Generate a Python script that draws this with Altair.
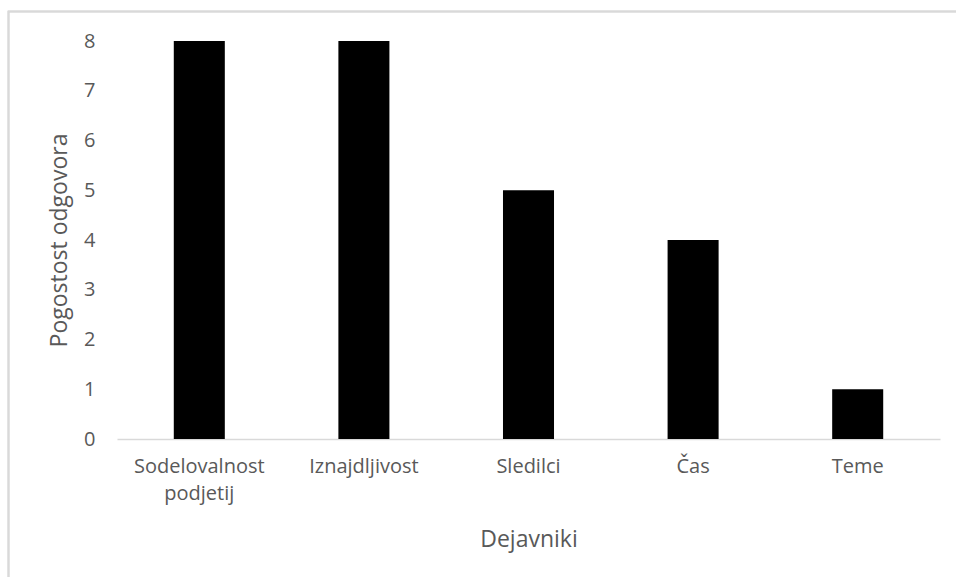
import altair as alt
import pandas as pd

# Factors and how often each was mentioned
factors = ["Sodelovalnost podjetij", "Iznajdljivost", "Sledilci", "Čas", "Teme"]
counts = [8, 8, 5, 4, 1]
y_ticks = [0, 1, 2, 3, 4, 5, 6, 7, 8]

df = pd.DataFrame({"dejavnik": factors, "pogostost": counts})

FONT = "Open Sans"
TEXT = "#595959"
LINE = "#d9d9d9"
FS = 20
TFS = 23

W, H = 823, 398

bars = alt.Chart(df).mark_bar(color="black").encode(
    x=alt.X(
        "dejavnik:N",
        sort=factors,
        scale=alt.Scale(paddingInner=0.69, paddingOuter=0.345),
        axis=alt.Axis(
            title="Dejavniki",
            domainColor=LINE,
            domainWidth=1.5,
            ticks=False,
            labelAngle=0,
            labelPadding=17,
            labelFontSize=FS,
            labelColor=TEXT,
            labelFont=FONT,
            labelLineHeight=27,
            labelBaseline="top",
            labelExpr="length(datum.label) > 15 ? split(datum.label, ' ') : datum.label",
            titleFontSize=TFS,
            titleFontWeight="normal",
            titleColor=TEXT,
            titleFont=FONT,
            titleX=W / 2,
            titleY=100,
            titleBaseline="middle",
        ),
    ),
    y=alt.Y(
        "pogostost:Q",
        scale=alt.Scale(domain=[0, 8], nice=False),
        axis=alt.Axis(
            title="Pogostost odgovora",
            values=y_ticks,
            domain=False,
            ticks=False,
            grid=False,
            labelPadding=22,
            labelFontSize=FS,
            labelColor=TEXT,
            labelFont=FONT,
            titleFontSize=TFS,
            titleFontWeight="normal",
            titleColor=TEXT,
            titleFont=FONT,
            titleX=-58,
            titleY=H / 2,
            titleBaseline="middle",
            titleAngle=-90,
        ),
    ),
)

# light frame around the whole chart
frame = alt.Chart(df).mark_rect(fill=None, stroke=LINE, strokeWidth=1.5).encode(
    x=alt.value(-108.5),
    x2=alt.value(W + 60),
    y=alt.value(-29.5),
    y2=alt.value(H + 200),
)

chart = alt.layer(frame, bars).properties(
    width=W,
    height=H,
    background="white",
    autosize=alt.AutoSizeParams(type="none"),
    padding={"left": 117, "top": 41, "right": 16, "bottom": 138},
).configure_view(strokeWidth=0)

chart.save("out.html", embed_options={"renderer": "svg", "actions": False})
